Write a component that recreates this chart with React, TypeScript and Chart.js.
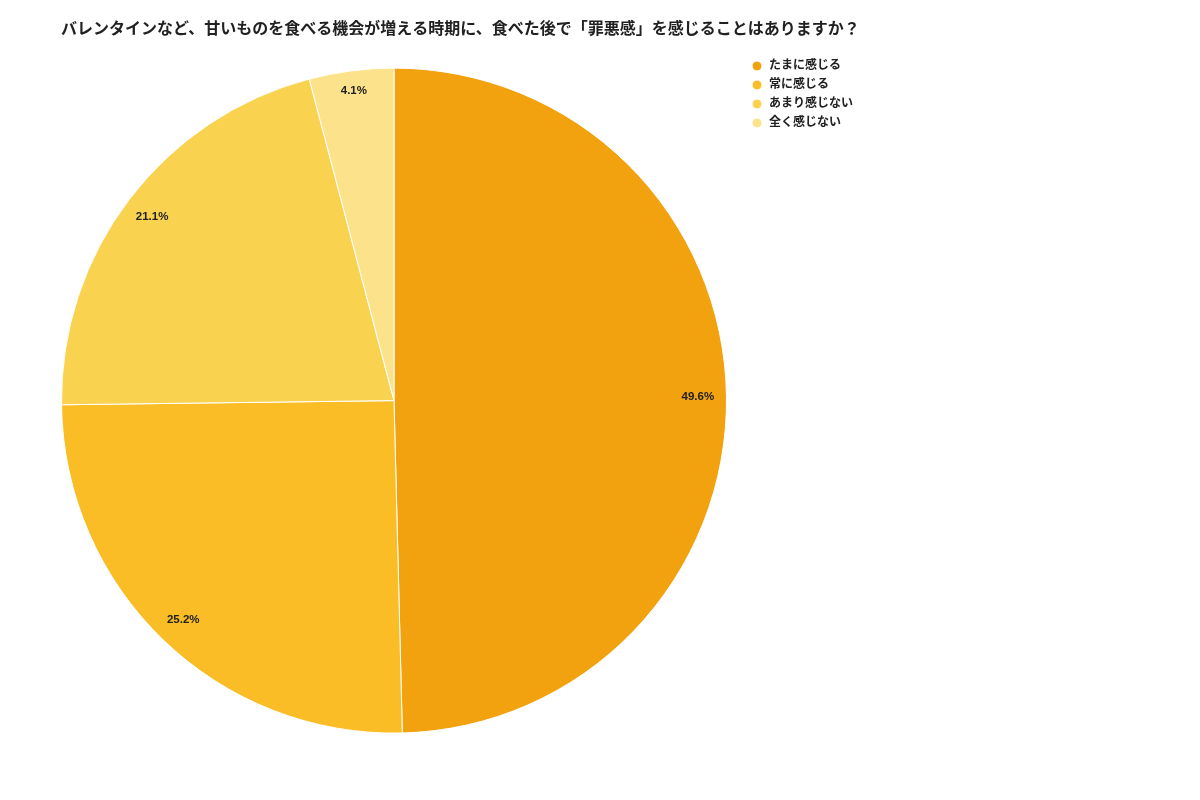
import React, { useEffect, useRef } from 'react';
import { Chart, registerables } from 'chart.js';
import type { Plugin } from 'chart.js';

Chart.register(...registerables);

const FONT = "'Liberation Sans', 'Noto Sans CJK JP', sans-serif";

const title = 'バレンタインなど、甘いものを食べる機会が増える時期に、食べた後で「罪悪感」を感じることはありますか？';
const answers = ['たまに感じる', '常に感じる', 'あまり感じない', '全く感じない'];
const shares = [49.6, 25.2, 21.1, 4.1];
const sliceColors = ['#F2A20F', '#FBBD25', '#F9D24F', '#FCE38B'];

// percentages drawn inside each slice, near the rim
const sliceLabels: Plugin<'pie'> = {
  id: 'sliceLabels',
  afterDatasetsDraw(chart) {
    const { ctx } = chart;
    const meta = chart.getDatasetMeta(0);
    ctx.save();
    ctx.font = `bold 11.5px ${FONT}`;
    ctx.fillStyle = '#212121';
    ctx.textAlign = 'center';
    ctx.textBaseline = 'middle';
    meta.data.forEach((el, i) => {
      const { x, y, startAngle, endAngle, outerRadius } = el.getProps(
        ['x', 'y', 'startAngle', 'endAngle', 'outerRadius'], true,
      ) as any;
      const mid = (startAngle + endAngle) / 2;
      // thin slices get pushed a bit further out
      const r = outerRadius * (shares[i] < 10 ? 0.94 : 0.914);
      ctx.fillText(`${shares[i].toFixed(1)}%`, x + Math.cos(mid) * r, y + Math.sin(mid) * r);
    });
    ctx.restore();
  },
};

// legend sits just right of the pie; title may run across the whole width
const placeBoxes: Plugin<'pie'> = {
  id: 'placeBoxes',
  afterLayout(chart) {
    const legend = chart.legend as any;
    if (legend) {
      legend.left = 744;
      legend.top = 53;
      legend.right = 1000;
      legend.bottom = 400;
    }
    const titleBlock = (chart as any).titleBlock;
    if (titleBlock) {
      titleBlock.right = 1190;
    }
  },
};

export default function App() {
  const canvasRef = useRef<HTMLCanvasElement>(null);

  useEffect(() => {
    if (!canvasRef.current) return () => { /* nothing */ };
    Chart.defaults.font.family = FONT;
    const chart = new Chart(canvasRef.current, {
      type: 'pie',
      data: {
        labels: answers,
        datasets: [{
          data: shares,
          backgroundColor: sliceColors,
          borderColor: '#ffffff',
          borderWidth: 1,
        }],
      },
      options: {
        animation: false,
        responsive: true,
        maintainAspectRatio: false,
        layout: {
          padding: { left: 61, right: 473, top: 0, bottom: 60 },
        },
        plugins: {
          title: {
            display: true,
            text: title,
            align: 'start',
            color: '#212121',
            font: { size: 16, weight: 'bold', family: FONT },
            padding: { top: 20, bottom: 22 },
          },
          legend: {
            position: 'chartArea',
            align: 'start',
            labels: {
              usePointStyle: true,
              pointStyle: 'circle',
              boxWidth: 12,
              boxHeight: 7,
              padding: 7,
              color: '#212121',
              font: { size: 12, weight: 'bold', family: FONT },
            },
          },
          tooltip: { enabled: false },
        },
      },
      plugins: [sliceLabels, placeBoxes],
    });
    return () => {
      chart.destroy();
    };
  }, []);

  return (
    <div style={{ position: 'absolute', left: 0, top: 0, width: 1200, height: 800, background: '#fff' }}>
      <canvas ref={canvasRef} />
    </div>
  );
}
